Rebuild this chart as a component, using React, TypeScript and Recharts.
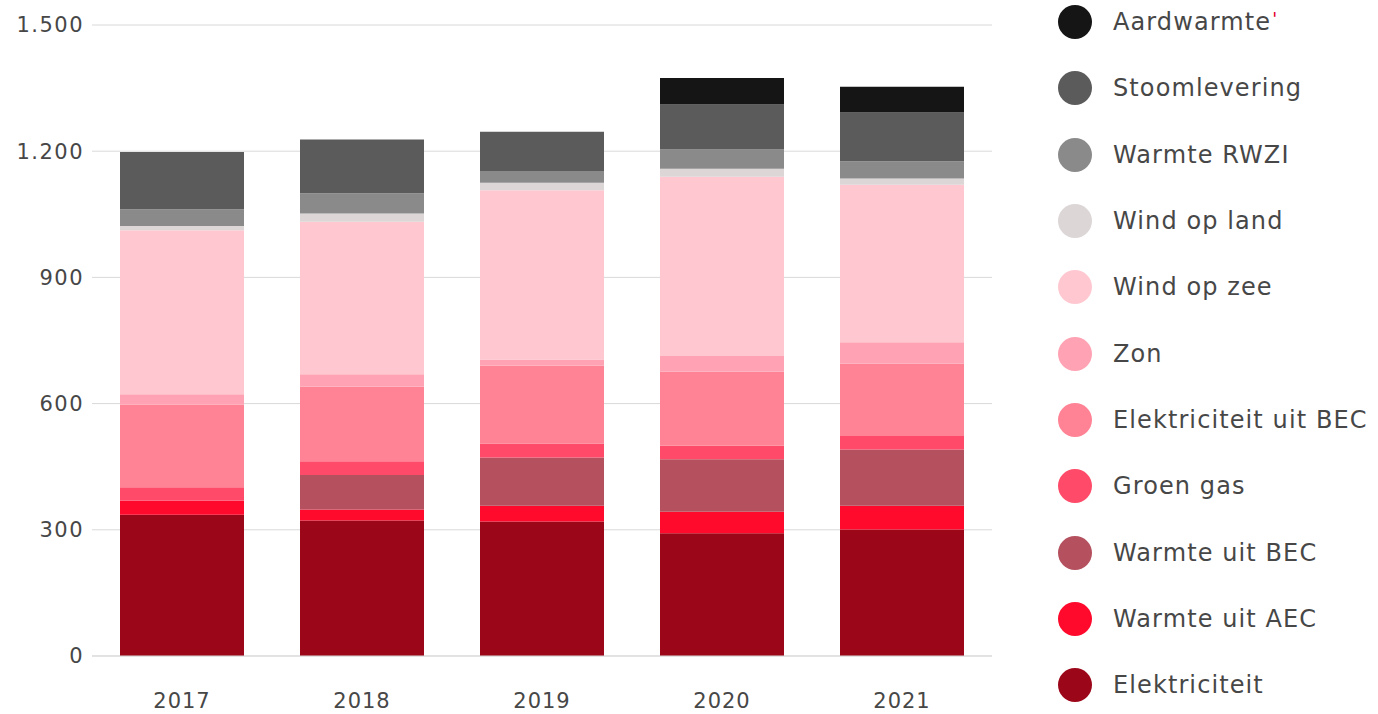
import React from "react";
import { Bar, BarChart, CartesianGrid, XAxis, YAxis } from "recharts";

const years = ["2017", "2018", "2019", "2020", "2021"];

const elektriciteit = [336, 322, 320, 292, 301];
const warmteAec = [33, 26, 37, 51, 56];
const warmteBec = [0, 82, 115, 125, 134];
const groenGas = [32, 33, 33, 32, 32];
const elektriciteitBec = [197, 177, 185, 176, 172];
const zon = [24, 30, 15, 37, 51];
const windZee = [390, 362, 402, 426, 374];
const windLand = [10, 20, 18, 19, 15];
const warmteRwzi = [40, 48, 28, 46, 41];
const stoomlevering = [136, 128, 93, 107, 116];
const aardwarmte = [0, 0, 0, 63, 61];

const yTicks = [0, 300, 600, 900, 1200, 1500];

// bottom to top
const series = [
  { key: "elektriciteit", name: "Elektriciteit", color: "#9c0619", values: elektriciteit },
  { key: "warmteAec", name: "Warmte uit AEC", color: "#ff0a2c", values: warmteAec },
  { key: "warmteBec", name: "Warmte uit BEC", color: "#b5515f", values: warmteBec },
  { key: "groenGas", name: "Groen gas", color: "#ff4b69", values: groenGas },
  { key: "elektriciteitBec", name: "Elektriciteit uit BEC", color: "#ff8395", values: elektriciteitBec },
  { key: "zon", name: "Zon", color: "#ffa3b4", values: zon },
  { key: "windZee", name: "Wind op zee", color: "#ffc8d1", values: windZee },
  { key: "windLand", name: "Wind op land", color: "#dcd6d6", values: windLand },
  { key: "warmteRwzi", name: "Warmte RWZI", color: "#8a8a8a", values: warmteRwzi },
  { key: "stoomlevering", name: "Stoomlevering", color: "#5b5b5b", values: stoomlevering },
  { key: "aardwarmte", name: "Aardwarmte", color: "#151515", values: aardwarmte },
];

const data = years.map((year, i) => {
  const row: Record<string, string | number> = { year };
  series.forEach((s) => {
    row[s.key] = s.values[i];
  });
  return row;
});

const font = "'DejaVu Sans', sans-serif";
const textColor = "#474747";

function formatTick(v: number) {
  if (v < 1000) return String(v);
  return `${Math.floor(v / 1000)}.${String(v % 1000).padStart(3, "0")}`;
}

function Legend() {
  const items = series.slice().reverse();
  return (
    <div style={{ position: "absolute", left: 1058, top: -11 }}>
      {items.map((s) => (
        <div
          key={s.key}
          style={{ display: "flex", alignItems: "center", height: 66.3 }}
        >
          <span
            style={{
              width: 34,
              height: 34,
              borderRadius: "50%",
              background: s.color,
              display: "inline-block",
            }}
          />
          <span
            style={{
              marginLeft: 21,
              fontFamily: font,
              fontSize: 24,
              letterSpacing: 1.1,
              color: textColor,
              whiteSpace: "nowrap",
            }}
          >
            {s.name}
            {s.key === "aardwarmte" && (
              <span style={{ color: "#e3002a", fontSize: 18, verticalAlign: "top", marginLeft: 1 }}>'</span>
            )}
          </span>
        </div>
      ))}
    </div>
  );
}

export default function App() {
  return (
    <div
      style={{
        position: "absolute",
        left: 0,
        top: 0,
        width: 1378,
        height: 714,
        background: "#fff",
        overflow: "hidden",
      }}
    >
      <BarChart
        width={1000}
        height={714}
        data={data}
        margin={{ top: 25, right: 8, bottom: 0, left: 0 }}
        barSize={124}
      >
        <CartesianGrid vertical={false} stroke="#d9d9d9" />
        <XAxis
          dataKey="year"
          height={58}
          axisLine={{ stroke: "#d9d9d9" }}
          tickLine={false}
          tickMargin={31}
          tick={{ fill: textColor, fontSize: 21, fontFamily: font, letterSpacing: 1 }}
        />
        <YAxis
          width={92}
          domain={[0, 1500]}
          ticks={yTicks}
          axisLine={false}
          tickLine={false}
          tickSize={0}
          tickMargin={8}
          tickFormatter={formatTick}
          tick={{ fill: textColor, fontSize: 21, fontFamily: font, letterSpacing: 1.5 }}
        />
        {series.map((s) => (
          <Bar
            key={s.key}
            dataKey={s.key}
            name={s.name}
            stackId="a"
            fill={s.color}
            isAnimationActive={false}
          />
        ))}
      </BarChart>
      <Legend />
    </div>
  );
}
